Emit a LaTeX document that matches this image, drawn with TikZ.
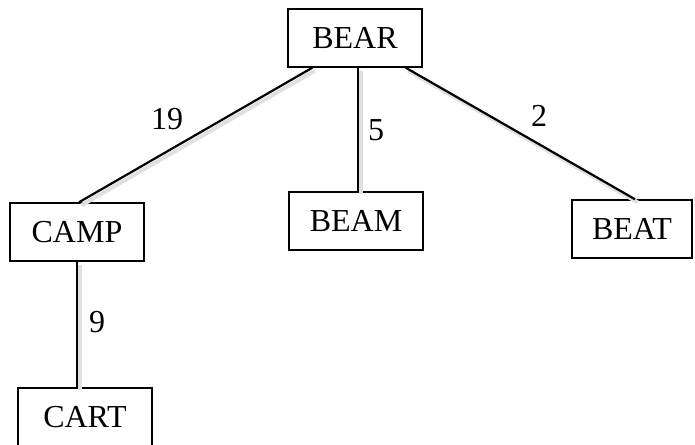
\documentclass[tikz,border=0pt]{standalone}
\usepackage{fontspec}
\setmainfont{Liberation Serif}
\begin{document}
\begin{tikzpicture}[x=1pt,y=-1pt,
  word/.style={draw=black, line width=1.5pt, fill=white, minimum width=134pt,
    minimum height=58pt, inner sep=0pt, text height=21pt, text depth=0pt,
    font=\fontsize{32}{33}\selectfont},
  weight/.style={inner sep=0pt, font=\fontsize{32}{33}\selectfont},
  edge/.style={line width=2.2pt, line cap=butt},
  edgeshadow/.style={line width=4pt, draw=black!12, line cap=butt}]
\useasboundingbox (0,0) rectangle (695,444);

% tree nodes
\node[word] (bear) at (355,38) {BEAR};
\node[word] (camp) at (77,232) {CAMP};
\node[word] (beam) at (356,221) {BEAM};
\node[word, minimum width=120pt] (beat) at (632,229) {BEAT};
\node[word] (cart) at (85,417) {CART};

% soft shadows under the connectors
\begin{scope}[transform canvas={shift={(2.5pt,-3pt)}}]
  \draw[edgeshadow] ([xshift=25pt]bear.south west) -- ([xshift=2pt]camp.north);
  \draw[edgeshadow] ([xshift=3pt]bear.south) -- ([xshift=2pt]beam.north);
  \draw[edgeshadow] ([xshift=-17pt]bear.south east) -- ([xshift=3pt]beat.north);
  \draw[edgeshadow] (camp.south) -- ([xshift=-8pt]cart.north);
\end{scope}

% connectors
\draw[edge] ([xshift=25pt]bear.south west) -- ([xshift=2pt]camp.north);
\draw[edge] ([xshift=3pt]bear.south) -- ([xshift=2pt]beam.north);
\draw[edge] ([xshift=-17pt]bear.south east) -- ([xshift=3pt]beat.north);
\draw[edge] (camp.south) -- ([xshift=-8pt]cart.north);

% edge weights
\node[weight] (w19) at (167,119) {19};
\node[weight] (w5) at (376,130) {5};
\node[weight] (w2) at (539,116) {2};
\node[weight] (w9) at (97,322) {9};
\end{tikzpicture}
\end{document}
